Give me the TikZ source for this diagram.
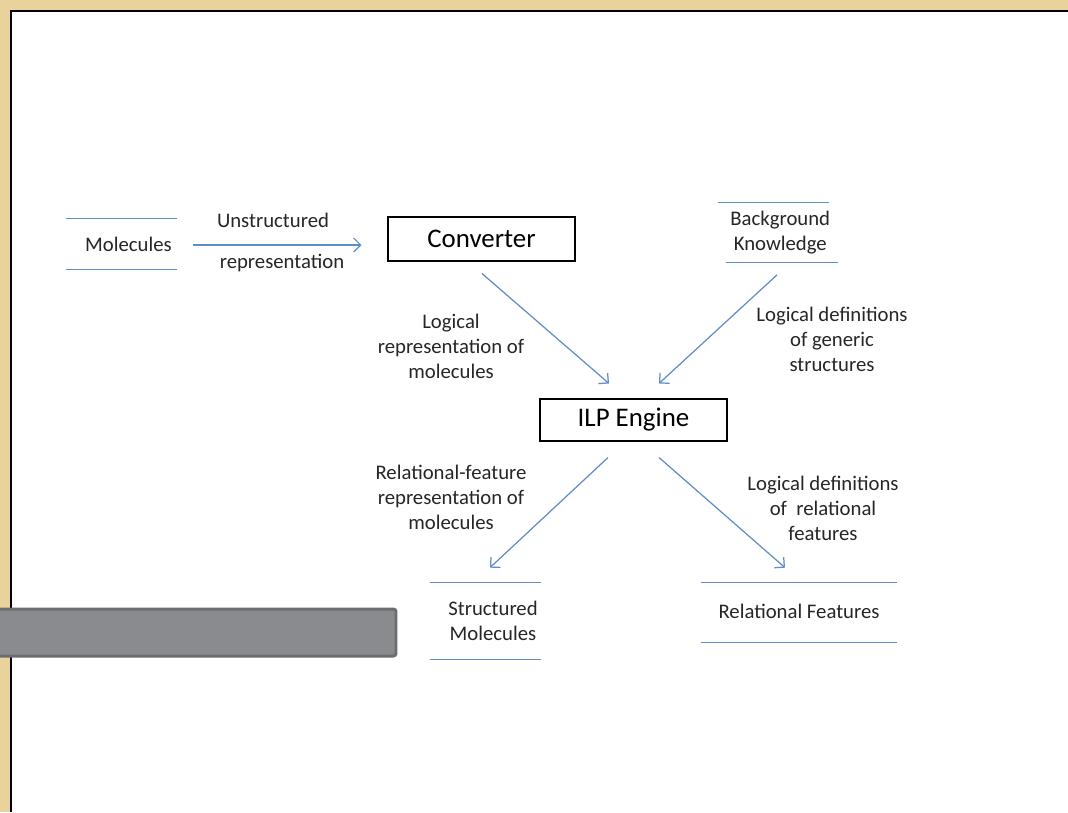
\documentclass[tikz,border=0pt]{standalone}
\usepackage{fontspec}
\setmainfont{Carlito}
\usepackage{xcolor}
\usetikzlibrary{arrows.meta}
\definecolor{parchment}{RGB}{234,210,156}
\definecolor{linkblue}{RGB}{96,141,199}
\definecolor{bargray}{RGB}{138,139,143}
\definecolor{bardark}{RGB}{108,109,113}
\definecolor{inktext}{RGB}{38,38,38}
\tikzset{
  lbl/.style={inner sep=0pt, align=center, text=inktext, font=\fontsize{11.8}{14.2}\selectfont},
  procbox/.style={draw=black, line width=0.6pt, inner sep=0pt, minimum width=3.74cm, text=black,
    font=\fontsize{15.3}{18}\selectfont},
  store/.style={lbl, minimum width=#1},
  storeline/.style={draw=linkblue, line width=0.8pt},
  flow/.style={draw=linkblue, line width=0.7pt, -{Straight Barb[length=4pt,width=8pt]}},
}
\begin{document}
\begin{tikzpicture}[x=0.02cm, y=-0.02cm]
  \useasboundingbox (0,0) rectangle (1068,812);
  % slide frame
  \fill[parchment] (0,0) rectangle (1068,812);
  \fill[white] (10,10) rectangle (1068,812);
  \draw[black, line width=1.2pt] (11,812) -- (11,11) -- (1068,11);
  \draw[bardark, fill=bargray, line width=1.7pt, rounded corners=1.5pt] (-10,609) rectangle (396,656);

  % stores and processes
  \node[store=2.22cm, minimum height=1cm] (mol) at (121.5,244) {\hspace*{0.28cm}Molecules};
  \node[procbox, minimum height=0.88cm] (conv) at (481.5,239) {Converter};
  \node[store=2.22cm, minimum height=1.18cm] (bk) at (777.75,232.5) {\hspace*{0.1cm}Background\\\hspace*{0.1cm}Knowledge};
  \node[procbox, minimum height=0.84cm] (ilp) at (633.5,420) {ILP Engine};
  \node[store=2.22cm, minimum height=1.52cm] (sm) at (485.5,621) {\hspace*{0.3cm}Structured\\\hspace*{0.3cm}Molecules};
  \node[store=3.92cm, minimum height=1.18cm] (rf) at (799,612.5) {\raisebox{0.06cm}{Relational Features}};

  \draw[storeline] (mol.north west) -- (mol.north east) (mol.south west) -- (mol.south east);
  \draw[storeline] ([xshift=-0.085cm]bk.north west) -- ([xshift=-0.085cm]bk.north east)
                   ([xshift=0.085cm]bk.south west) -- ([xshift=0.085cm]bk.south east);
  \draw[storeline] (sm.north west) -- (sm.north east) (sm.south west) -- (sm.south east);
  \draw[storeline] (rf.north west) -- (rf.north east) (rf.south west) -- (rf.south east);

  % connectors
  \draw[flow] ([shift={(16,1)}]mol.east) -- ([shift={(-26,6)}]conv.west);
  \draw[flow] ([shift={(0.5,12)}]conv.south) -- ([shift={(-24.5,-15)}]ilp.north);
  \draw[flow] ([shift={(-0.75,12.5)}]bk.south) -- ([shift={(25.5,-15)}]ilp.north);
  \draw[flow] ([shift={(-25.5,16)}]ilp.south) -- ([shift={(4.5,-15)}]sm.north);
  \draw[flow] ([shift={(25.5,16)}]ilp.south) -- ([shift={(-14,-15)}]rf.north);

  % labels
  \node[lbl] (unstr) at (273,220) {Unstructured};
  \node[lbl] (unrep) at (282,263) {representation};
  \node[lbl] (logrep) at (451,346) {Logical\\representation of\\molecules};
  \node[lbl] (loggen) at (832,339) {Logical definitions\\of generic\\structures};
  \node[lbl] (relrep) at (451,497) {Relational-feature\\representation of\\molecules};
  \node[lbl] (logrel) at (823,508) {Logical definitions\\of\ \ relational\\features};
\end{tikzpicture}
\end{document}
